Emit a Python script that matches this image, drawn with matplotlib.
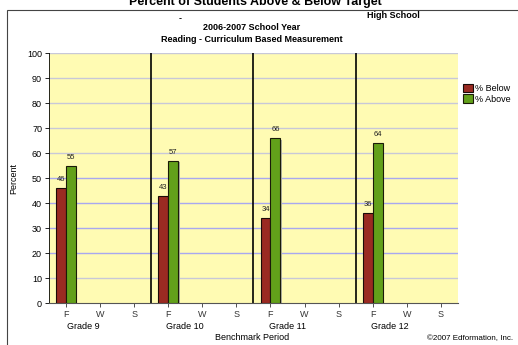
import matplotlib.pyplot as plt
from matplotlib.patches import Rectangle
import matplotlib.transforms as mtransforms

plt.rcParams['font.family'] = ['Liberation Sans', 'DejaVu Sans']

grades = ['Grade 9', 'Grade 10', 'Grade 11', 'Grade 12']
periods = ['F', 'W', 'S']
pct_below = [46, 43, 34, 36]
pct_above = [55, 57, 66, 64]

red = '#9a2a22'
green = '#62a01a'

fig = plt.figure(figsize=(5.18, 3.45), dpi=100)
ax = fig.add_axes([0.0946, 0.1217, 0.7894, 0.7246])
ax.set_facecolor('#fffbb3')

# frame around the chart
fig.add_artist(Rectangle((7 / 518, -0.01), 1.0, (345 - 10) / 345 + 0.01,
                         transform=fig.transFigure, fill=False,
                         edgecolor='#444444', linewidth=0.8))

ax.set_xlim(-0.5, 11.5)
ax.set_ylim(0, 100)

# horizontal grid
for y in range(10, 101, 10):
    c = '#c8c8d8' if y >= 60 or y == 10 else '#a8a8f0'
    ax.axhline(y, color=c, linewidth=1.0, zorder=0)

# grade separators
for g in range(len(grades)):
    ax.axvline(g * 3 - 0.5, color='black', linewidth=1.2, zorder=1)

w = 0.29
xs = [g * 3 for g in range(len(grades))]
for x, b, a in zip(xs, pct_below, pct_above):
    # shadows
    ax.bar(x - w / 2 + 0.04, b, w, bottom=-0.6, color='#b0b0a0', zorder=2)
    ax.bar(x + w / 2 + 0.04, a, w, bottom=-0.6, color='#b0b0a0', zorder=2)
rb = ax.bar([x - w / 2 for x in xs], pct_below, w, color=red,
            edgecolor='#1a0a08', linewidth=0.8, zorder=3, label='% Below')
ra = ax.bar([x + w / 2 for x in xs], pct_above, w, color=green,
            edgecolor='#1a1a08', linewidth=0.8, zorder=3, label='% Above')
for x, b, a in zip(xs, pct_below, pct_above):
    ax.text(x - w / 2, b + 2, str(b), ha='center', va='bottom', fontsize=5.5, color='#222222')
    ax.text(x + w / 2, a + 2, str(a), ha='center', va='bottom', fontsize=5.5, color='#222222')

ax.set_yticks(range(0, 101, 10))
ax.tick_params(axis='y', labelsize=6.5, length=3, width=0.6, pad=2)
ax.set_xticks(range(12))
ax.set_xticklabels(periods * 4)
ax.tick_params(axis='x', labelsize=6.5, length=3, width=0.6, pad=2, colors='#333333')

for s in ['top', 'right', 'left']:
    ax.spines[s].set_visible(False)
ax.spines['bottom'].set_color('#555555')

trans = mtransforms.blended_transform_factory(ax.transData, ax.transAxes)
for g, name in enumerate(grades):
    ax.text(g * 3 + 0.5, -0.075, name, transform=trans, ha='center', va='top', fontsize=6.5)

ax.set_ylabel('Percent', fontsize=6.5, labelpad=6)
fig.text(252 / 518, 1 - 337 / 345, 'Benchmark Period', ha='center', va='center', fontsize=6.5)
fig.text(513 / 518, 1 - 339 / 345, '\u00a92007 Edformation, Inc.', ha='right', va='center', fontsize=5.8)

fig.text(255 / 518, 1 - 2 / 345, 'Percent of Students Above & Below Target',
         ha='center', va='center', fontsize=9, fontweight='bold')
fig.text(393 / 518, 1 - 16 / 345, 'High School', ha='center', va='center',
         fontsize=6.5, fontweight='bold')
fig.text(180 / 518, 1 - 19 / 345, '-', ha='center', va='center', fontsize=6.5, fontweight='bold')
fig.text(252 / 518, 1 - 27 / 345, '2006-2007 School Year', ha='center', va='center',
         fontsize=6.5, fontweight='bold')
fig.text(252 / 518, 1 - 40 / 345, 'Reading - Curriculum Based Measurement', ha='center',
         va='center', fontsize=6.5, fontweight='bold')

fig.legend(handles=[rb, ra], loc='upper left', bbox_to_anchor=(459 / 518, 1 - 80 / 345),
           frameon=False, fontsize=6.5, handlelength=1.1, handleheight=1.1,
           handletextpad=0.3, labelspacing=0.15, borderaxespad=0)

fig.savefig('out.png', dpi=100)
